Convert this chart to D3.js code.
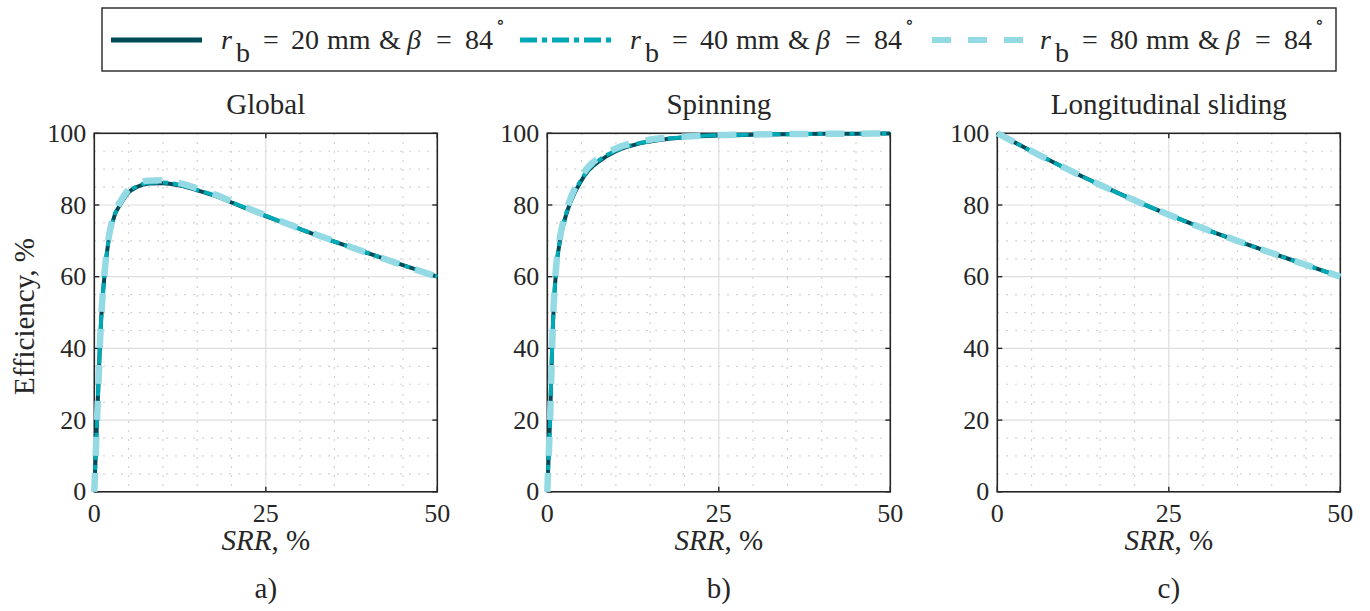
<!DOCTYPE html>
<meta charset="utf-8">
<style>
body { margin: 0; background: #fff; }
svg { display: block; }
text {
    font-family: "Liberation Serif", "Times New Roman", "DejaVu Serif", serif;
    font-size: 26px;
    fill: #262626;
}
.label { font-size: 29px; }
.grid-major line { stroke: #dedede; stroke-width: 1.2px; }
.grid-minor line { stroke: #c4c4c4; stroke-width: 1.2px; stroke-dasharray: 1.5,7.5; }
.frame { fill: none; stroke: #262626; stroke-width: 1.6px; }
.ticks line { stroke: #262626; stroke-width: 1.4px; }
.curve { fill: none; stroke-linejoin: round; }
.legend text { font-size: 28px; }
</style>

<svg id="chart" width="1370" height="611"></svg>

<script src="https://d3js.org/d3.v7.min.js"></script>
<script>
    // ---- data ----
    var seriesNames = ["20", "40", "80"];
    var seriesColors = ["#014a57", "#00a9b6", "#93dae5"];

    var panelTitles = ["Global", "Spinning", "Longitudinal sliding"];
    var panelTags = ["a)", "b)", "c)"];
    var xTicks = [0, 25, 50];
    var yTicks = [0, 20, 40, 60, 80, 100];

    var srrGlobal = [0, 0.2, 0.4, 0.6, 0.8, 1.0, 1.25, 1.5, 2, 2.5, 3, 3.75, 5, 6.2, 8, 10, 12.5, 15, 17.5, 20, 25, 30, 35, 40, 45, 50];
    var effGlobal20 = [0, 10, 20, 30, 40, 48, 55, 60.5, 69, 74, 77.3, 80, 83.5, 85, 86, 86.1, 85.4, 84.1, 82.6, 80.7, 76.9, 73.3, 69.8, 66.5, 63.2, 60];
    var effGlobal40 = [0, 10, 20, 30, 40, 48.2, 55.3, 60.8, 69.2, 74.2, 77.5, 80.2, 83.7, 85.2, 86.2, 86.3, 85.6, 84.2, 82.7, 80.8, 77.0, 73.3, 69.8, 66.5, 63.2, 60];
    var effGlobal80 = [0, 10, 20, 30, 40.5, 48.5, 55.8, 61.3, 69.8, 74.8, 78.1, 80.8, 84.3, 85.9, 86.8, 86.9, 86.1, 84.6, 83.0, 81.0, 77.1, 73.4, 69.9, 66.5, 63.2, 60];

    var srrSpin = [0, 0.2, 0.4, 0.55, 0.7, 0.85, 1.1, 1.4, 1.85, 2.7, 3.5, 4.8, 6, 7.7, 10, 13.5, 16.5, 20, 25, 30, 35, 40, 45, 50];
    var effSpin20 = [0, 10, 20, 30, 40, 48, 57, 64, 70, 77, 81.3, 86.3, 89.6, 92.4, 95, 97.2, 98.2, 98.9, 99.4, 99.6, 99.75, 99.85, 99.9, 99.95];
    var effSpin40 = [0, 10, 20, 30, 40, 48.2, 57.3, 64.3, 70.3, 77.3, 81.6, 86.6, 89.9, 92.7, 95.2, 97.3, 98.3, 98.95, 99.45, 99.6, 99.75, 99.85, 99.9, 99.95];
    var effSpin80 = [0, 10, 20, 30, 40.5, 48.7, 58, 65, 71, 78, 82.4, 87.4, 90.7, 93.4, 95.8, 97.7, 98.6, 99.1, 99.5, 99.65, 99.8, 99.85, 99.9, 99.95];

    var srrSlide = [0, 5, 10, 15, 20, 25, 30, 35, 40, 45, 50];
    var effSlide20 = [100, 95.0, 90.2, 85.6, 81.3, 77.3, 73.5, 70.0, 66.6, 63.3, 60];
    var effSlide40 = [100, 95.0, 90.2, 85.6, 81.3, 77.3, 73.5, 70.0, 66.6, 63.3, 60];
    var effSlide80 = [100, 95.0, 90.2, 85.6, 81.3, 77.3, 73.5, 70.0, 66.6, 63.3, 60];

    var panels = [
        { x: srrGlobal, ys: [effGlobal20, effGlobal40, effGlobal80] },
        { x: srrSpin,   ys: [effSpin20, effSpin40, effSpin80] },
        { x: srrSlide,  ys: [effSlide20, effSlide40, effSlide80] }
    ];

    // ---- layout ----
    var svg = d3.select("#chart");
    var panelLeft = [94.3, 547.3, 997.3],
        panelWidth = 343,
        plotTop = 133.3,
        plotBottom = 491.8,
        tickLen = 5;

    var widths = [4, 4, 6.5];
    var dashes = [null, "17,5,5,5", "19,17"];

    panels.forEach(function(p, i) {
        var x = d3.scaleLinear().domain([0, 50]).range([panelLeft[i], panelLeft[i] + panelWidth]);
        var y = d3.scaleLinear().domain([0, 100]).range([plotBottom, plotTop]);
        var g = svg.append("g");
        var cx = (x(0) + x(50)) / 2;

        // minor grid
        var minorX = d3.range(5, 50, 5).filter(function(v) { return v % 25 !== 0; });
        var minorY = d3.range(5, 100, 5).filter(function(v) { return v % 20 !== 0; });
        var gm = g.append("g").attr("class", "grid-minor");
        gm.selectAll("line.v").data(minorX).enter().append("line")
          .attr("class", "v")
          .attr("x1", function(d) { return x(d); }).attr("x2", function(d) { return x(d); })
          .attr("y1", plotTop).attr("y2", plotBottom);
        gm.selectAll("line.h").data(minorY).enter().append("line")
          .attr("class", "h")
          .attr("x1", x(0)).attr("x2", x(50))
          .attr("y1", function(d) { return y(d); }).attr("y2", function(d) { return y(d); });

        // major grid
        var gM = g.append("g").attr("class", "grid-major");
        gM.selectAll("line.v").data(xTicks.slice(1, -1)).enter().append("line")
          .attr("class", "v")
          .attr("x1", function(d) { return x(d); }).attr("x2", function(d) { return x(d); })
          .attr("y1", plotTop).attr("y2", plotBottom);
        gM.selectAll("line.h").data(yTicks.slice(1, -1)).enter().append("line")
          .attr("class", "h")
          .attr("x1", x(0)).attr("x2", x(50))
          .attr("y1", function(d) { return y(d); }).attr("y2", function(d) { return y(d); });

        // ticks on all four sides, pointing in
        var gt = g.append("g").attr("class", "ticks");
        xTicks.forEach(function(v) {
            gt.append("line").attr("x1", x(v)).attr("x2", x(v)).attr("y1", plotBottom).attr("y2", plotBottom - tickLen);
            gt.append("line").attr("x1", x(v)).attr("x2", x(v)).attr("y1", plotTop).attr("y2", plotTop + tickLen);
        });
        yTicks.forEach(function(v) {
            gt.append("line").attr("x1", x(0)).attr("x2", x(0) + tickLen).attr("y1", y(v)).attr("y2", y(v));
            gt.append("line").attr("x1", x(50)).attr("x2", x(50) - tickLen).attr("y1", y(v)).attr("y2", y(v));
        });

        g.append("rect").attr("class", "frame")
         .attr("x", x(0)).attr("y", plotTop)
         .attr("width", x(50) - x(0)).attr("height", plotBottom - plotTop);

        // tick labels
        g.selectAll("text.xt").data(xTicks).enter().append("text")
         .attr("class", "xt")
         .attr("x", function(d) { return x(d); })
         .attr("y", 522)
         .attr("text-anchor", "middle")
         .text(function(d) { return d; });
        g.selectAll("text.yt").data(yTicks).enter().append("text")
         .attr("class", "yt")
         .attr("x", x(0) - 8)
         .attr("y", function(d) { return y(d) + 8.5; })
         .attr("text-anchor", "end")
         .text(function(d) { return d; });

        // title, axis label, tag
        g.append("text").attr("class", "label")
         .attr("x", cx).attr("y", 114)
         .attr("text-anchor", "middle")
         .text(panelTitles[i]);

        var xl = g.append("text").attr("class", "label")
         .attr("x", cx).attr("y", 550)
         .attr("text-anchor", "middle");
        xl.append("tspan").attr("font-style", "italic").text("SRR");
        xl.append("tspan").text(", %");

        g.append("text").attr("class", "label")
         .attr("x", cx).attr("y", 598)
         .attr("text-anchor", "middle")
         .text(panelTags[i]);

        // curves
        var line = d3.line()
            .x(function(d) { return x(d[0]); })
            .y(function(d) { return y(d[1]); })
            .curve(d3.curveMonotoneX);

        p.ys.forEach(function(ys, s) {
            var pts = p.x.map(function(v, k) { return [v, ys[k]]; });
            g.append("path")
             .attr("class", "curve")
             .attr("d", line(pts))
             .attr("stroke", seriesColors[s])
             .attr("stroke-width", widths[s])
             .attr("stroke-dasharray", dashes[s]);
        });
    });

    // y axis label
    svg.append("text").attr("class", "label")
       .attr("transform", "translate(34," + ((plotTop + plotBottom) / 2 + 4) + ") rotate(-90)")
       .attr("text-anchor", "middle")
       .text("Efficiency, %");

    // ---- legend ----
    var legend = svg.append("g").attr("class", "legend");
    legend.append("rect")
       .attr("x", 102).attr("y", 8)
       .attr("width", 1234).attr("height", 63)
       .attr("fill", "#fff").attr("stroke", "#262626").attr("stroke-width", 1.4);

    var legendLineX = [[111, 202], [520, 612], [932, 1026]];
    var legendTextX = [221, 630, 1040];

    seriesNames.forEach(function(name, s) {
        legend.append("line")
           .attr("x1", legendLineX[s][0]).attr("x2", legendLineX[s][1])
           .attr("y1", 40).attr("y2", 40)
           .attr("stroke", seriesColors[s])
           .attr("stroke-width", s === 2 ? 6 : 5)
           .attr("stroke-dasharray", dashes[s]);

        var x0 = legendTextX[s];
        var t = legend.append("text").attr("y", 49);
        t.append("tspan").attr("x", x0).attr("font-style", "italic").text("r");
        t.append("tspan").attr("x", x0 + 15).attr("dy", 13).text("b");
        t.append("tspan").attr("x", x0 + 42).attr("dy", -13).text("=");
        t.append("tspan").attr("x", x0 + 70).text(name);
        t.append("tspan").attr("x", x0 + 106).text("mm");
        t.append("tspan").attr("x", x0 + 158).text("&");
        t.append("tspan").attr("x", x0 + 186).attr("font-style", "italic").text("β");
        t.append("tspan").attr("x", x0 + 215).text("=");
        t.append("tspan").attr("x", x0 + 244).text("84");
        t.append("tspan").attr("x", x0 + 275).attr("dy", -21).attr("font-size", "18px").text("∘");
    });
</script>
